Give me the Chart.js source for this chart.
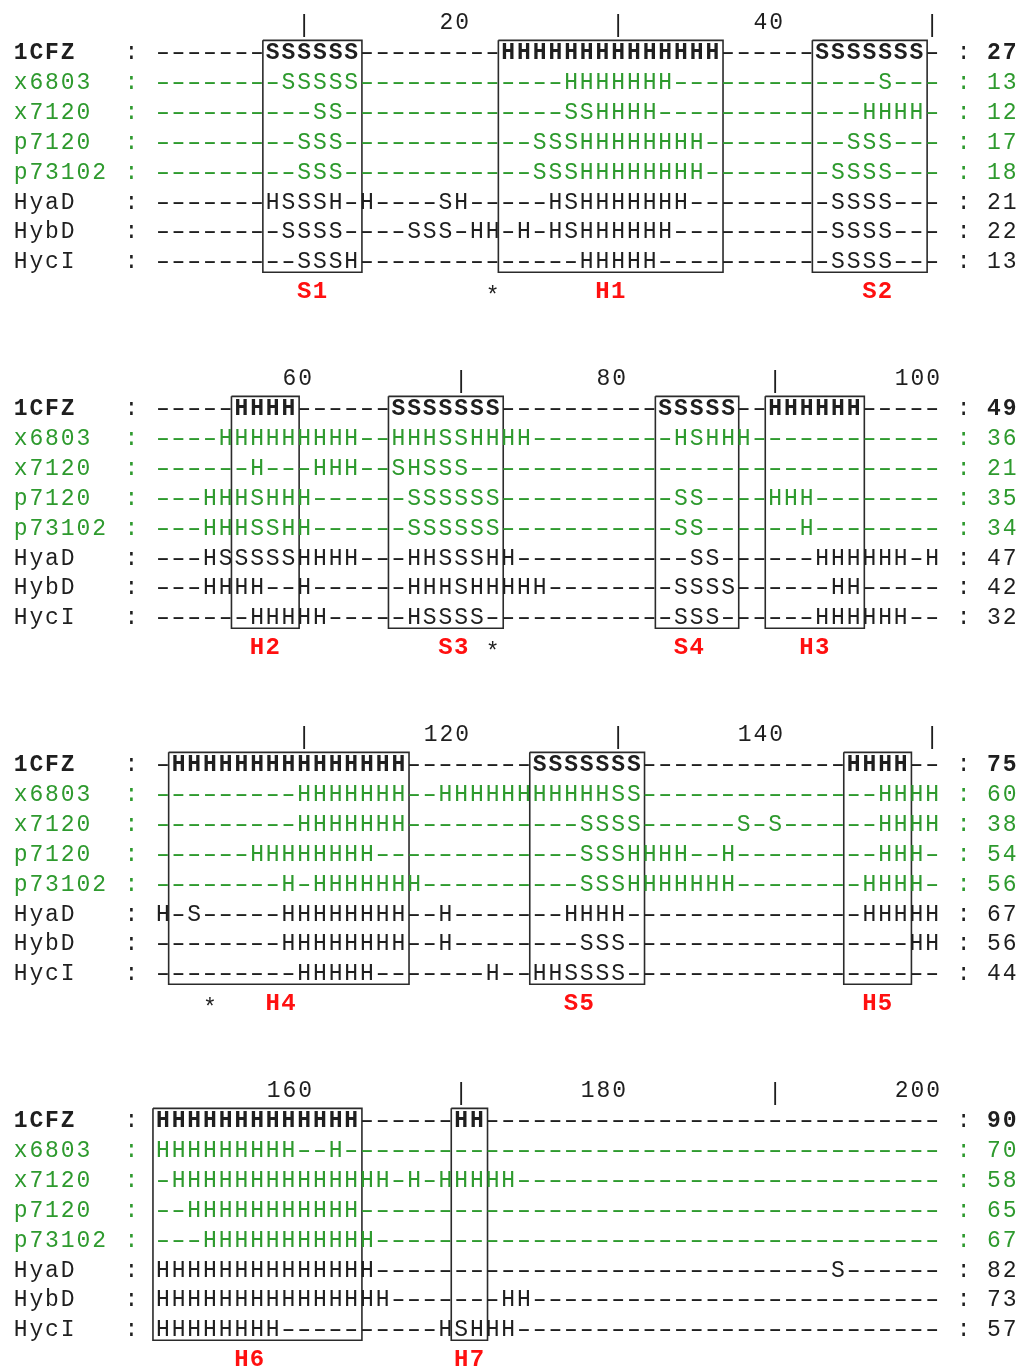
<!DOCTYPE html>
<html>
<head>
<meta charset="utf-8">
<title>Secondary structure alignment</title>
<script src="https://cdn.jsdelivr.net/npm/chart.js@4.4.1/dist/chart.umd.min.js"></script>
<style>
  html, body { margin: 0; padding: 0; background: #fff; }
  #wrap { position: relative; width: 1021px; height: 1368px; }
</style>
</head>
<body>
<div id="wrap"><canvas id="aln"></canvas></div>
<script>
// Filas del alineamiento
const names = ["1CFZ", "x6803", "x7120", "p7120", "p73102", "HyaD", "HybD", "HycI"];
const greenRows = ["x6803", "x7120", "p7120", "p73102"];

// Estructura secundaria, 50 posiciones por bloque
const seq1CFZ = [
    "-------SSSSSS---------HHHHHHHHHHHHHH------SSSSSSS-",
    "-----HHHH------SSSSSSS----------SSSSS--HHHHHH-----",
    "-HHHHHHHHHHHHHHH--------SSSSSSS-------------HHHH--",
    "HHHHHHHHHHHHH------HH-----------------------------"
];
const seqX6803 = [
    "--------SSSSS-------------HHHHHHH-------------S---",
    "----HHHHHHHHH--HHHSSHHHH---------HSHHH------------",
    "---------HHHHHHH--HHHHHHHHHHHSS---------------HHHH",
    "HHHHHHHHH--H--------------------------------------"
];
const seqX7120 = [
    "----------SS--------------SSHHHH-------------HHHH-",
    "------H---HHH--SHSSS------------------------------",
    "---------HHHHHHH-----------SSSS------S-S------HHHH",
    "-HHHHHHHHHHHHHH-H-HHHHH---------------------------"
];
const seqP7120 = [
    "---------SSS------------SSSHHHHHHHH---------SSS---",
    "---HHHSHHH------SSSSSS-----------SS----HHH--------",
    "------HHHHHHHH-------------SSSHHHH--H---------HHH-",
    "--HHHHHHHHHHH-------------------------------------"
];
const seqP73102 = [
    "---------SSS------------SSSHHHHHHHH--------SSSS---",
    "---HHHSSHH------SSSSSS-----------SS------H--------",
    "--------H-HHHHHHH----------SSSHHHHHHH--------HHHH-",
    "---HHHHHHHHHHH------------------------------------"
];
const seqHyaD = [
    "-------HSSSH-H----SH-----HSHHHHHHH---------SSSS---",
    "---HSSSSSHHHH---HHSSSHH-----------SS------HHHHHH-H",
    "H-S-----HHHHHHHH--H-------HHHH---------------HHHHH",
    "HHHHHHHHHHHHHH-----------------------------S------"
];
const seqHybD = [
    "--------SSSS----SSS-HH-H-HSHHHHHH----------SSSS---",
    "---HHHH--H------HHHSHHHHH--------SSSS------HH-----",
    "--------HHHHHHHH--H--------SSS------------------HH",
    "HHHHHHHHHHHHHHH-------HH--------------------------"
];
const seqHycI = [
    "---------SSSH--------------HHHHH-----------SSSS---",
    "------HHHHH-----HSSSS------------SSS------HHHHHH--",
    "---------HHHHH-------H--HHSSSS--------------------",
    "HHHHHHHH----------HSHHH---------------------------"
];
const sequences = [seq1CFZ, seqX6803, seqX7120, seqP7120, seqP73102, seqHyaD, seqHybD, seqHycI];

// Totales acumulados a la derecha de cada bloque
const countsBlock1 = [27, 13, 12, 17, 18, 21, 22, 13];
const countsBlock2 = [49, 36, 21, 35, 34, 47, 42, 32];
const countsBlock3 = [75, 60, 38, 54, 56, 67, 56, 44];
const countsBlock4 = [90, 70, 58, 65, 67, 82, 73, 57];
const counts = [countsBlock1, countsBlock2, countsBlock3, countsBlock4];

// Regla de posiciones
const tickPositions = [10, 20, 30, 40, 50, 60, 70, 80, 90, 100, 110, 120, 130, 140, 150, 160, 170, 180, 190, 200];

// Cajas de elementos conservados
const boxNames = ["S1", "H1", "S2", "H2", "S3", "S4", "H3", "H4", "S5", "H5", "H6", "H7"];
const boxBlock = [0, 0, 0, 1, 1, 1, 1, 2, 2, 2, 3, 3];
const boxStart = [8, 23, 43, 6, 16, 33, 40, 2, 25, 45, 1, 20];
const boxEnd = [13, 36, 49, 9, 22, 37, 45, 16, 31, 48, 13, 21];
const boxLabelCol = [10, 29, 46, 7, 19, 34, 42, 8, 27, 46, 6, 20];

// Asteriscos
const starBlock = [0, 1, 2];
const starCol = [22, 22, 4];

// ---- geometría ----
const W = 1021, H = 1368;
const COL_W = 15.7, ROW_H = 29.85, BLOCK_H = 356;
const LEFT = 13.7, TOP = 51.7;
const SEQ_OFFSET = 8;      // columna 1 -> celda 9 de la rejilla
const BLOCK_LEN = 50;
const BLOCK_ROWS = BLOCK_H / ROW_H;
const X_MIN = -0.5 - LEFT / COL_W, X_MAX = X_MIN + W / COL_W;
const Y_MIN = -TOP / ROW_H, Y_MAX = Y_MIN + H / ROW_H;

const MONO = '"Liberation Mono", "Courier New", monospace';
const FS = 23;
const GREEN = '#2e9a2e', INK = '#1f1f1f', RED = '#ff1010', BOXC = '#2b2b2b';

function rowY(b, r) { return b * BLOCK_ROWS + r; }

function textSet(font, color, align, spaced, dy) {
    return { type: 'scatter', data: [], pointRadius: 0, showLine: false,
             textFont: font, textColor: color, textAlign: align, spaced: spaced, dy: dy || 0 };
}

const refCells = textSet('bold ' + FS + 'px ' + MONO, INK, 'center', false);
refCells.plainFont = FS + 'px ' + MONO;   // guiones y dos puntos sin negrita
const greenCells = textSet(FS + 'px ' + MONO, GREEN, 'center', false);
const inkCells = textSet(FS + 'px ' + MONO, INK, 'center', false);
const refWords = textSet('bold ' + FS + 'px ' + MONO, INK, 'left', true);
const greenWords = textSet(FS + 'px ' + MONO, GREEN, 'left', true);
const inkWords = textSet(FS + 'px ' + MONO, INK, 'left', true);
const tickNums = textSet(FS + 'px ' + MONO, INK, 'right', true);
const tickBars = textSet(FS + 'px ' + MONO, INK, 'center', false);
const stars = textSet(FS + 'px ' + MONO, INK, 'center', false, 5);
const regionLabels = textSet('bold ' + (FS + 1) + 'px ' + MONO, RED, 'center', true);

for (let b = 0; b < 4; b++) {
    names.forEach((name, r) => {
        const y = rowY(b, r);
        const cells = r === 0 ? refCells : (greenRows.includes(name) ? greenCells : inkCells);
        const words = r === 0 ? refWords : (greenRows.includes(name) ? greenWords : inkWords);
        words.data.push({ x: -0.5, y: y, t: name });
        cells.data.push({ x: 7, y: y, t: ':' });
        sequences[r][b].split('').forEach((ch, i) => {
            cells.data.push({ x: i + 1 + SEQ_OFFSET, y: y, t: ch });
        });
        cells.data.push({ x: SEQ_OFFSET + BLOCK_LEN + 2, y: y, t: ':' });
        words.data.push({ x: SEQ_OFFSET + BLOCK_LEN + 3.5, y: y, t: String(counts[b][r]) });
    });
}

tickPositions.forEach(m => {
    const b = Math.floor((m - 1) / BLOCK_LEN);
    const col = m - b * BLOCK_LEN;
    if (m % 20 === 0) tickNums.data.push({ x: col + SEQ_OFFSET + 0.5, y: rowY(b, -1), t: String(m) });
    else tickBars.data.push({ x: col + SEQ_OFFSET, y: rowY(b, -0.92), t: '|' });
});

starBlock.forEach((b, k) => {
    stars.data.push({ x: starCol[k] + SEQ_OFFSET, y: rowY(b, 8), t: '*' });
});

const boxSets = boxNames.map((nm, k) => {
    const b = boxBlock[k];
    regionLabels.data.push({ x: boxLabelCol[k] + SEQ_OFFSET + 0.5, y: rowY(b, 8), t: nm });
    const x0 = boxStart[k] + SEQ_OFFSET - 0.63, x1 = boxEnd[k] + SEQ_OFFSET + 0.68;
    const y0 = rowY(b, -0.38), y1 = rowY(b, 7.39);
    return {
        type: 'scatter', label: nm, showLine: true, pointRadius: 0, fill: false,
        borderColor: BOXC, borderWidth: 1.6, tension: 0,
        data: [{ x: x0, y: y0 }, { x: x1, y: y0 }, { x: x1, y: y1 }, { x: x0, y: y1 }, { x: x0, y: y0 }]
    };
});

// Dibuja el texto de cada punto con las coordenadas que da la escala
const cellText = {
    id: 'cellText',
    afterDatasetsDraw(chart) {
        const ctx = chart.ctx;
        chart.data.datasets.forEach((ds, i) => {
            if (!ds.textFont) return;
            const meta = chart.getDatasetMeta(i);
            ctx.save();
            ctx.font = ds.textFont;
            ctx.fillStyle = ds.textColor;
            ctx.textAlign = ds.textAlign;
            ctx.textBaseline = 'alphabetic';
            const size = parseFloat(ds.textFont.match(/(\d+)px/)[1]);
            let gap = 0;
            if (ds.spaced && 'letterSpacing' in ctx) {
                gap = Math.max(0, COL_W - ctx.measureText('0').width);
                ctx.letterSpacing = gap + 'px';
            }
            const shift = ds.textAlign === 'center' ? gap / 2 : (ds.textAlign === 'right' ? gap : 0);
            meta.data.forEach((el, j) => {
                const t = ds.data[j].t;
                const x = el.x + shift, y = el.y + size * 0.33 + ds.dy;
                const plain = ds.plainFont && (t === '-' || t === ':');
                if (plain) ctx.font = ds.plainFont;
                if (t === '-') {
                    // guion más largo, como en la fuente Courier del original
                    ctx.save();
                    ctx.translate(x, y);
                    ctx.scale(1.55, 1);
                    ctx.fillText(t, 0, 0);
                    ctx.restore();
                } else {
                    ctx.fillText(t, x, y);
                }
                if (plain) ctx.font = ds.textFont;
            });
            ctx.restore();
        });
    }
};

new Chart(document.getElementById('aln'), {
    type: 'scatter',
    data: {
        datasets: [...boxSets, refCells, greenCells, inkCells, refWords, greenWords, inkWords,
                   tickNums, tickBars, stars, regionLabels]
    },
    options: {
        responsive: true,
        maintainAspectRatio: false,
        animation: false,
        layout: { padding: 0 },
        scales: {
            x: { type: 'linear', display: false, min: X_MIN, max: X_MAX },
            y: { type: 'linear', display: false, reverse: true, min: Y_MIN, max: Y_MAX }
        },
        plugins: { legend: { display: false }, tooltip: { enabled: false } }
    },
    plugins: [cellText]
});
</script>
</body>
</html>
